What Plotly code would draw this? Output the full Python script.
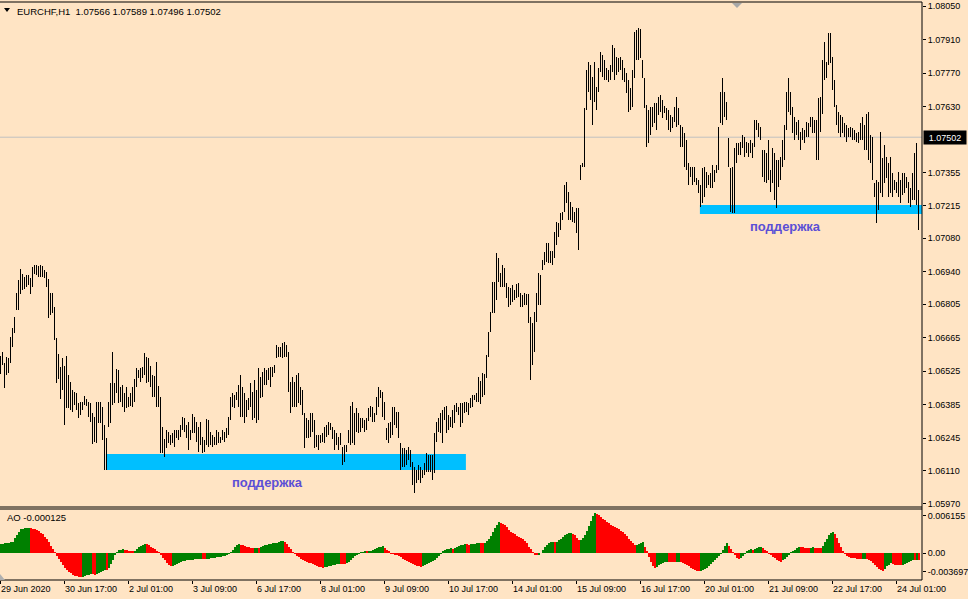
import plotly.graph_objects as go

# ---------------- data (EURCHF H1, prices in points = 1e-5) ----------------
high_pts = [
    106588,106606,106557,106585,106578,106667,106704,106753,106853,106906,
    106950,106931,106920,106927,106927,106913,106961,106968,106968,106964,
    106968,106964,106947,106941,106908,106853,106850,106792,106662,106597,
    106544,106578,106547,106588,106509,106481,106446,106439,106435,106393,
    106398,106398,106421,106407,106398,106393,106352,106335,106398,106398,
    106398,106377,106300,106244,106398,106474,106606,106474,106533,106530,
    106460,106467,106432,106460,106418,106432,106460,106491,106537,106530,
    106537,106544,106599,106585,106578,106547,106509,106505,106565,106463,
    106418,106293,106240,106279,106272,106258,106265,106279,106279,106279,
    106300,106335,106328,106300,106314,106279,106346,106335,106314,106293,
    106314,106251,106237,106324,106321,106272,106258,106251,106279,106272,
    106251,106279,106272,106286,106335,106418,106432,106425,106439,106467,
    106509,106460,106432,106405,106411,106474,106439,106488,106446,106537,
    106502,106523,106537,106530,106537,106544,106544,106550,106635,106627,
    106627,106641,106648,106635,106606,106481,106502,106481,106509,106516,
    106460,106446,106349,106328,106321,106349,106349,106321,106258,106258,
    106258,106265,106293,106300,106314,106310,106293,106279,106265,106251,
    106268,106210,106217,106217,106279,106379,106398,106349,106370,106349,
    106328,106328,106321,106328,106370,106379,106377,106349,106418,106460,
    106446,106439,106398,106286,106307,106314,106377,106377,106356,106356,
    106224,106203,106203,106196,106210,106196,106147,106126,106112,106133,
    106126,106112,106140,106182,106175,106175,106175,106268,106314,106328,
    106349,106363,106377,106379,106342,106335,106363,106384,106391,106377,
    106391,106391,106398,106398,106391,106411,106425,106425,106432,106502,
    106485,106516,106513,106592,106690,106773,106899,106899,107017,106996,
    106934,106968,106954,106892,106878,106871,106885,106864,106889,106892,
    106850,106843,106850,106847,106847,106753,106725,106773,106850,106934,
    106927,106989,107022,107060,107060,107027,107027,107106,107148,107144,
    107184,107191,107302,107316,107274,107233,107212,107191,107205,107205,
    107386,107393,107622,107783,107817,107804,107755,107817,107713,107790,
    107859,107845,107825,107790,107783,107804,107887,107873,107838,107831,
    107838,107825,107790,107769,107741,107706,107783,107943,107950,107957,
    107952,107825,107748,107636,107615,107629,107629,107643,107643,107671,
    107679,107657,107632,107622,107615,107595,107588,107629,107671,107622,
    107553,107546,107521,107490,107393,107379,107379,107379,107330,107323,
    107302,107372,107379,107358,107344,107351,107386,107365,107386,107546,
    107692,107748,107692,107650,107497,107372,107379,107455,107476,107476,
    107483,107511,107504,107483,107476,107490,107476,107574,107574,107560,
    107546,107449,107449,107435,107490,107365,107455,107435,107407,107407,
    107421,107490,107553,107692,107748,107692,107629,107588,107567,107574,
    107525,107539,107532,107567,107560,107588,107588,107574,107574,107664,
    107671,107825,107901,107817,107936,107936,107838,107741,107636,107609,
    107595,107588,107560,107553,107539,107546,107539,107532,107518,107525,
    107560,107585,107553,107601,107609,107511,107504,107309,107323,107316,
    107525,107414,107469,107421,107393,107421,107351,107323,107316,107358,
    107323,107351,107351,107337,107316,107288,107351,107435,107476,107281,
]
low_pts = [
    106513,106550,106453,106509,106516,106557,106624,106683,106781,106781,
    106846,106864,106867,106878,106885,106846,106878,106931,106927,106917,
    106917,106917,106913,106878,106746,106760,106769,106655,106477,106491,
    106407,106446,106300,106370,106370,106363,106356,106384,106363,106328,
    106342,106363,106384,106379,106335,106314,106219,106230,106226,106307,
    106307,106237,106112,106112,106293,106307,106384,106391,106432,106391,
    106398,106377,106356,106370,106377,106379,106374,106398,106460,106495,
    106481,106495,106509,106474,106481,106460,106418,106416,106377,106374,
    106182,106182,106168,106203,106224,106217,106226,106210,106244,106237,
    106251,106279,106272,106244,106196,106237,106265,106265,106230,106189,
    106217,106185,106189,106217,106210,106217,106210,106217,106217,106224,
    106226,106237,106230,106244,106258,106321,106377,106370,106405,106377,
    106335,106335,106307,106335,106363,106377,106321,106328,106307,106321,
    106411,106418,106467,106467,106488,106460,106502,106516,106578,106585,
    106585,106578,106585,106585,106439,106349,106377,106377,106377,106391,
    106384,106342,106203,106244,106244,106251,106272,106203,106210,106196,
    106224,106230,106226,106251,106258,106279,106240,106196,106217,106196,
    106217,106133,106147,106189,106224,106217,106224,106217,106272,106265,
    106272,106286,106272,106279,106318,106335,106314,106314,106342,106377,
    106411,106335,106321,106237,106224,106244,106258,106300,106286,106244,
    106112,106126,106126,106133,106154,106126,106049,106014,106056,106071,
    106056,106078,106091,106105,106105,106105,106071,106098,106230,106272,
    106265,106224,106321,106268,106279,106293,106286,106307,106356,106342,
    106293,106307,106349,106356,106342,106370,106377,106405,106398,106398,
    106388,106418,106425,106495,106585,106690,106766,106766,106822,106899,
    106878,106878,106878,106829,106794,106801,106815,106822,106829,106836,
    106794,106794,106801,106801,106725,106488,106550,106606,106732,106801,
    106801,106947,106968,106981,106977,106977,106968,106997,107052,107085,
    107115,107156,107191,107226,107156,107156,107149,107142,107100,107030,
    107323,107379,107379,107615,107692,107657,107553,107650,107615,107692,
    107776,107755,107741,107741,107734,107741,107776,107741,107762,107776,
    107783,107741,107734,107685,107609,107615,107629,107748,107825,107825,
    107831,107748,107622,107462,107476,107511,107546,107560,107532,107595,
    107609,107581,107602,107574,107532,107525,107539,107567,107546,107553,
    107462,107462,107379,107365,107302,107337,107302,107316,107302,107268,
    107212,107226,107254,107288,107302,107288,107288,107316,107351,107365,
    107560,107553,107588,107574,107379,107191,107184,107184,107393,107428,
    107428,107455,107421,107435,107421,107435,107414,107462,107532,107504,
    107490,107337,107316,107309,107323,107274,107309,107240,107205,107295,
    107323,107379,107407,107532,107609,107595,107518,107490,107511,107490,
    107449,107490,107476,107504,107504,107546,107518,107518,107407,107407,
    107525,107601,107741,107748,107804,107810,107699,107629,107553,107518,
    107504,107518,107504,107483,107504,107504,107490,107490,107483,107476,
    107490,107490,107449,107449,107407,107393,107323,107254,107142,107198,
    107268,107254,107309,107330,107254,107268,107254,107281,107268,107254,
    107226,107261,107268,107288,107226,107212,107240,107240,107219,107114,
]
# Awesome Oscillator values, in units of 1e-5
ao_e5 = [
    140,143,147,152,158,165,174,226,277,328,364,372,378,382,384,
    380,376,368,355,338,315,285,250,210,165,115,60,
    5,-45,-95,-140,-185,-225,-260,-290,-315,-335,-350,-360,-366,-370,
    -365,-355,-345,-335,-325,-330,-333,-320,-305,-290,-275,-255,-258,
    -230,-170,-100,-35,15,40,52,58,50,40,30,24,20,
    30,55,85,110,130,140,135,120,100,80,60,35,5,
    -30,-70,-110,-150,-180,-200,
    -195,-185,-170,-155,-140,-128,-120,-115,-110,-105,-100,-96,-92,-88,-85,
    -90,-95,-90,-85,-80,-75,-70,-65,-60,-55,-48,-40,-28,-12,
    15,50,90,120,140,130,118,105,95,85,78,72,78,82,76,
    90,105,120,130,138,144,150,155,160,168,178,185,
    170,135,95,55,15,-15,-40,-65,-88,-108,-125,-140,-150,-158,-165,
    -180,-195,-208,-218,-226,-220,-212,-204,-196,-188,-180,-172,-165,
    -168,-170,-172,-160,-135,-105,-75,-50,-28,-8,5,14,20,16,
    25,38,52,65,78,90,100,108,80,45,20,-5,-15,-20,
    -30,-45,-65,-85,-105,-125,-145,-160,-175,-188,-198,-205,-210,
    -200,-185,-170,-155,-138,-120,-100,-75,-45,-10,
    25,45,58,66,72,68,80,95,108,120,130,138,132,128,134,140,146,150,154,
    150,148,160,185,220,265,320,380,430,470,
    465,450,430,395,360,330,305,285,265,250,230,210,190,150,100,55,10,
    -20,-30,-22,0,45,90,125,150,165,172,168,
    175,195,220,245,270,290,305,313,300,270,230,195,
    200,225,270,340,420,500,565,610,
    605,580,555,530,505,480,455,435,420,405,385,365,345,320,290,255,220,185,150,120,
    130,145,158,165,100,30,-60,-140,-200,-226,
    -210,-190,-170,-155,-140,-132,-136,-139,-142,-145,-140,-132,-140,-150,
    -165,-185,-205,-225,-245,-260,-272,-280,
    -275,-262,-245,-225,-200,-175,-145,-115,-80,-45,-5,
    50,110,148,115,65,15,-30,-70,-97,
    -75,-45,-10,20,42,56,52,65,76,85,92,75,50,
    20,-10,-35,-58,-80,-100,-118,-133,
    -115,-85,-55,-25,5,30,52,72,87,86,85,84,83,82,84,86,82,78,74,70,
    110,165,220,270,305,323,290,230,160,90,25,
    -15,-40,-58,-70,-78,-83,-87,-90,-92,-88,-85,-90,
    -105,-125,-150,-180,-210,-240,-262,-272,-240,-205,-180,-160,
    -170,-178,-184,-188,-192,-180,-165,-150,-135,-120,-108,-115,-100,-110,
]
date_labels = ["29 Jun 2020", "30 Jun 17:00", "2 Jul 01:00", "3 Jul 09:00",
               "6 Jul 17:00", "8 Jul 01:00", "9 Jul 09:00", "10 Jul 17:00",
               "14 Jul 01:00", "15 Jul 09:00", "16 Jul 17:00", "20 Jul 01:00",
               "21 Jul 09:00", "22 Jul 17:00", "24 Jul 01:00"]
date_tick_bars = [0, 32, 64, 96, 128, 160, 192, 224, 256, 288, 320, 352, 384, 416, 448]
price_ticks = [1.08050, 1.07910, 1.07770, 1.07630, 1.07355, 1.07215, 1.07080,
               1.06940, 1.06805, 1.06665, 1.06525, 1.06385, 1.06245, 1.06110, 1.05970]
# AO scale labels (MT4 keeps the max/min labels inside the sub-window)
ao_tick_pos = [0.00570, 0.0, -0.00292]
ao_tick_text = ["0.006155", "0.00", "-0.003697"]
current_price = 1.07502
title_text = "EURCHF,H1 \u00a01.07566 1.07589 1.07496 1.07502"
ao_label = "AO -0.000125"
# support zones: (start bar, end bar, top price, bottom price)
zones = [(52.7, 232.7, 1.06179, 1.06112), (349.7, 461.0, 1.07219, 1.07181)]
zone_labels = [(133.7, 1.06058), (392.7, 1.07127)]
zone_text = "поддержка"

assert len(high_pts) == 460 and len(low_pts) == 460 and len(ao_e5) == 460

idx = list(range(len(high_pts)))
high = [v / 1e5 for v in high_pts]
low = [v / 1e5 for v in low_pts]
ao = [v * 1e-5 for v in ao_e5]
ao_colors = ["#008000"] + ["#008000" if ao[i] > ao[i - 1] else "#FF0000" for i in range(1, len(ao))]

BG = "#FFE4C4"
FONT = "Liberation Sans, Arial, sans-serif"
TICK_FONT = dict(family=FONT, size=9, color="black")
W, H = 968, 599
ML, MR, MT, MB = 0, 46, 2, 19
PW, PH = W - ML - MR, H - MT - MB


def px_x(px):
    return px / PW


def px_y(py):
    return (PH + MT - py) / PH


main_dom = [px_y(507), 1.0]
ao_dom = [0.0, px_y(509)]
ppx = 23942.0  # pixels per price unit on the main scale
main_range = [1.0805 - (507 - 6) / ppx, 1.0805 + (6 - 2) / ppx]
aopx = 6500.0
ao_range = [-(580 - 553) / aopx, (553 - 509) / aopx]

fig = go.Figure()
fig.add_trace(go.Bar(x=idx, y=ao, marker=dict(color=ao_colors, line=dict(width=0)),
                     width=1.0, offset=-0.25, xaxis="x", yaxis="y2", hoverinfo="skip"))
fig.add_trace(go.Bar(x=idx, base=low, y=[h - l for h, l in zip(high, low)],
                     marker=dict(color="black", line=dict(width=0)),
                     width=0.42, xaxis="x", yaxis="y", hoverinfo="skip"))

shapes = []
for x0, x1, y0, y1 in zones:
    shapes.append(dict(type="rect", xref="x", yref="y", x0=x0, x1=x1, y0=y0, y1=y1,
                       fillcolor="#00BFFF", line=dict(width=0), layer="below"))
shapes.append(dict(type="line", xref="paper", yref="y", x0=0, x1=1,
                   y0=current_price, y1=current_price,
                   line=dict(color="#C0C0C0", width=1), layer="below"))
border = dict(color="black", width=1)
for yy in [1.0, main_dom[0], ao_dom[1], 0.0]:
    shapes.append(dict(type="line", xref="paper", yref="paper", x0=0, x1=1, y0=yy, y1=yy, line=border))
shapes.append(dict(type="line", xref="paper", yref="paper", x0=1, x1=1, y0=0, y1=1, line=border))
# chart menu triangle and shift marker
shapes.append(dict(type="path", xref="paper", yref="paper",
                   path=f"M {px_x(4)} {px_y(8)} L {px_x(10)} {px_y(8)} L {px_x(7)} {px_y(12)} Z",
                   fillcolor="black", line=dict(width=0)))
shapes.append(dict(type="path", xref="paper", yref="paper",
                   path=f"M {px_x(732)} {px_y(3)} L {px_x(742)} {px_y(3)} L {px_x(737)} {px_y(8)} Z",
                   fillcolor="#A8A8A8", line=dict(width=0)))
shapes.append(dict(type="path", xref="paper", yref="paper",
                   path=f"M {px_x(0)} {px_y(574)} L {px_x(5)} {px_y(580)} L {px_x(0)} {px_y(580)} Z",
                   fillcolor="#B0B0B0", line=dict(width=0)))

annotations = [
    dict(xref="paper", yref="paper", x=px_x(15), y=px_y(11), text=title_text,
         showarrow=False, xanchor="left", yanchor="middle",
         font=dict(family=FONT, size=9.5, color="black")),
    dict(xref="paper", yref="paper", x=px_x(5), y=px_y(517), text=ao_label,
         showarrow=False, xanchor="left", yanchor="middle",
         font=dict(family=FONT, size=9.5, color="black")),
    dict(xref="paper", yref="y", x=1, y=current_price, text="1.07502",
         showarrow=False, xanchor="left", yanchor="middle", xshift=1,
         bgcolor="black", width=40, height=11, borderpad=1,
         font=dict(family=FONT, size=9, color="white")),
]
for zx, zy in zone_labels:
    annotations.append(dict(xref="x", yref="y", x=zx, y=zy, text=f"<b>{zone_text}</b>",
                            showarrow=False, xanchor="center", yanchor="middle",
                            font=dict(family=FONT, size=13, color="#5B4FD6")))

fig.update_layout(
    template="none",
    width=W, height=H, margin=dict(l=ML, r=MR, t=MT, b=MB, autoexpand=False),
    paper_bgcolor=BG, plot_bgcolor=BG, showlegend=False, barmode="overlay",
    bargap=0, font=dict(family=FONT, size=9, color="black"),
    shapes=shapes, annotations=annotations,
    xaxis=dict(range=[-0.25, 460.75], anchor="y2", tickmode="array", automargin=False,
               tickvals=date_tick_bars, ticktext=date_labels, ticks="outside",
               ticklen=3, tickcolor="black", showgrid=False, zeroline=False,
               showline=False, ticklabelposition="outside right", tickfont=TICK_FONT),
    yaxis=dict(domain=main_dom, range=main_range, side="right", anchor="x", automargin=False,
               tickmode="array", tickvals=price_ticks,
               ticktext=[f"{v:.5f}" for v in price_ticks], ticks="outside",
               ticklen=3, tickcolor="black", showgrid=False, zeroline=False,
               showline=False, tickfont=TICK_FONT),
    yaxis2=dict(domain=ao_dom, range=ao_range, side="right", anchor="x", automargin=False,
                tickmode="array", tickvals=ao_tick_pos, ticktext=ao_tick_text,
                ticks="outside", ticklen=3, tickcolor="black", showgrid=False,
                zeroline=False, showline=False, tickfont=TICK_FONT),
)

fig.write_html("out.html", config={"displayModeBar": False},
               post_script="document.body.style.margin='0';document.body.style.overflow='hidden';")
